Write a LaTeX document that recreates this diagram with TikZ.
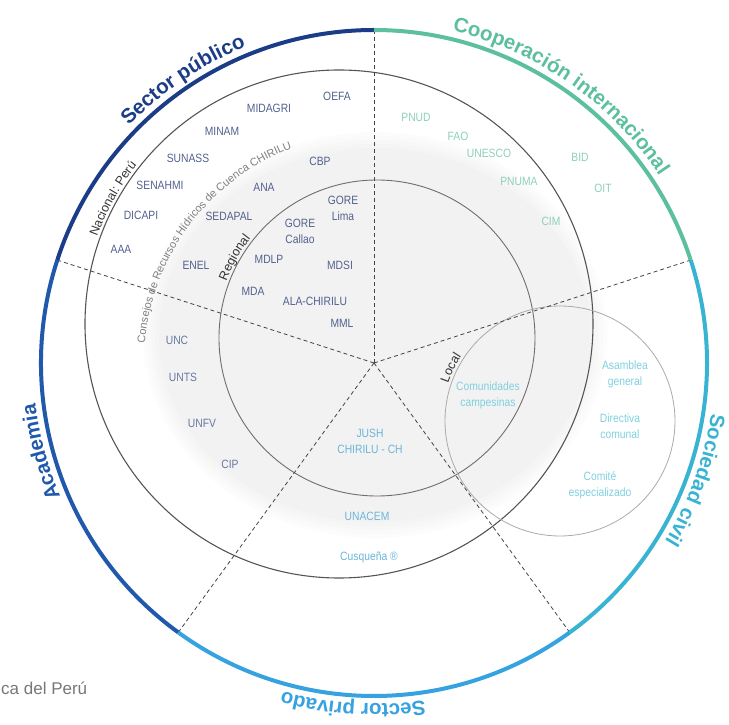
\documentclass[tikz,border=0pt]{standalone}
\usepackage{fontspec}
\setmainfont{Liberation Sans}
\newfontfamily\labfont[FakeStretch=0.86]{Liberation Sans}
\usetikzlibrary{decorations.text}
\definecolor{cPub}{HTML}{1B3C86}
\definecolor{cAca}{HTML}{2058AC}
\definecolor{cPriv}{HTML}{36A2E0}
\definecolor{cSoc}{HTML}{38B4D2}
\definecolor{cCoop}{HTML}{5CBF9E}
\definecolor{lPub}{HTML}{52618F}
\definecolor{lAca}{HTML}{6878A0}
\definecolor{lPriv}{HTML}{6DB5DA}
\definecolor{lCoop}{HTML}{8DD0B9}
\definecolor{lSoc}{HTML}{7FD0E0}
\definecolor{ringA}{HTML}{555555}
\definecolor{ringB}{HTML}{6E6E6E}
\definecolor{ringC}{HTML}{AAAAAA}
\definecolor{dashc}{HTML}{444444}
\definecolor{darklab}{HTML}{333333}
\definecolor{consc}{HTML}{808080}
\definecolor{footc}{HTML}{777777}
\newcommand\orgfont{\labfont\fontsize{12}{16}\selectfont}
\newcommand\ttlfont{\fontsize{20.5}{24}\selectfont\bfseries}
\newcommand\ringfont{\fontsize{12.5}{15}\selectfont}
\newcommand\consfont{\fontsize{11}{13}\selectfont}
\tikzset{
  pub/.style={font=\orgfont, text=lPub, align=center, inner sep=0pt},
  aca/.style={font=\orgfont, text=lAca, align=center, inner sep=0pt},
  priv/.style={font=\orgfont, text=lPriv, align=center, inner sep=0pt},
  coop/.style={font=\orgfont, text=lCoop, align=center, inner sep=0pt},
  soc/.style={font=\orgfont, text=lSoc, align=center, inner sep=0pt},
  ttl/.style 2 args={decorate, decoration={text along path, text align=center, text color=#1, text={|\ttlfont|#2}}},
  ringtxt/.style 2 args={decorate, decoration={text along path, text align=center, text color=#1, text={|\ringfont|#2}}},
  divider/.style={draw=dashc, line width=0.8pt, dash pattern=on 4pt off 3pt},
  outerarc/.style={line width=4pt},
}
\begin{document}
\begin{tikzpicture}[x=1pt,y=1pt]
\useasboundingbox (-374,-362) rectangle (355,363);
% shaded zone (soft edge)
\foreach \k in {1,...,5}
  \fill[black!\k] (1,28) ellipse [x radius={236-\k*4}, y radius={207-\k*4}];
% rings
\draw[ringA, line width=1.1pt] (-35,39) circle [radius=254];
\draw[ringB, line width=0.9pt] (3,25) circle [radius=158];
\draw[ringC, line width=0.8pt] (186,-58) circle [radius=115];
% dividers
\coordinate (c) at (0,0);
\coordinate (d1) at (90:333);
\coordinate (d2) at (18:333);
\coordinate (d3) at (-54:333);
\coordinate (d4) at (-126:333);
\coordinate (d5) at (162:333);
\foreach \d in {d1,d2,d3,d4,d5} \draw[divider] (c) -- (\d);
% ring labels
\path[shift={(-35,39)}, ringtxt={darklab}{Nacional: Perú}] (175:257) arc[start angle=175, end angle=127, radius=257];
\path[shift={(3,25)}, ringtxt={darklab}{Regional}] (170:161) arc[start angle=170, end angle=131, radius=161];
\path[shift={(186,-58)}, ringtxt={darklab}{Local}] (185:118) arc[start angle=185, end angle=123, radius=118];
\path[decorate, decoration={text along path, text align=center, text color=consc, text={|\consfont|Consejos de Recursos Hídricos de Cuenca CHIRILU}}] (180:230) arc[start angle=180, end angle=106, radius=230];
% Sector publico
\node[pub] (oefa) at (-37,267) {OEFA};
\node[pub] (midagri) at (-105,255) {MIDAGRI};
\node[pub] (minam) at (-152,232) {MINAM};
\node[pub] (sunass) at (-186,205) {SUNASS};
\node[pub] (cbp) at (-54,202) {CBP};
\node[pub] (senahmi) at (-214,178) {SENAHMI};
\node[pub] (ana) at (-110,176) {ANA};
\node[pub] (dicapi) at (-233,148) {DICAPI};
\node[pub] (sedapal) at (-145,147) {SEDAPAL};
\node[pub] (gorelima) at (-31,155) {GORE\\Lima};
\node[pub] (gorecallao) at (-74,132) {GORE\\Callao};
\node[pub] (aaa) at (-253,114) {AAA};
\node[pub] (enel) at (-178,98) {ENEL};
\node[pub] (mdlp) at (-105,104) {MDLP};
\node[pub] (mdsi) at (-34,98) {MDSI};
\node[pub] (mda) at (-121,72) {MDA};
\node[pub] (alachirilu) at (-59,62) {ALA-CHIRILU};
\node[pub] (mml) at (-32,40) {MML};
% Academia
\node[aca] (unc) at (-197,23) {UNC};
\node[aca] (unts) at (-191,-14) {UNTS};
\node[aca] (unfv) at (-172,-60) {UNFV};
\node[aca] (cip) at (-144,-101) {CIP};
% Sector privado
\node[priv] (jush) at (-4,-78) {JUSH\\CHIRILU - CH};
\node[priv] (unacem) at (-7,-153) {UNACEM};
\node[priv] (cusquena) at (-5,-194) {Cusqueña ®};
% Cooperacion
\node[coop] (pnud) at (42,246) {PNUD};
\node[coop] (fao) at (84,227) {FAO};
\node[coop] (unesco) at (115,210) {UNESCO};
\node[coop] (bid) at (206,206) {BID};
\node[coop] (pnuma) at (145,182) {PNUMA};
\node[coop] (oit) at (229,175) {OIT};
\node[coop] (cim) at (177,142) {CIM};
% Sociedad civil
\node[soc] (comunidades) at (114,-32) {Comunidades\\campesinas};
\node[soc] (asamblea) at (251,-11) {Asamblea\\general};
\node[soc] (directiva) at (246,-63) {Directiva\\comunal};
\node[soc] (comite) at (226,-122) {Comité\\especializado};
% outer arcs
\draw[cPub, outerarc] (90:333) arc[start angle=90, end angle=162, radius=333];
\draw[cAca, outerarc] (162:333) arc[start angle=162, end angle=234, radius=333];
\draw[cPriv, outerarc] (234:333) arc[start angle=234, end angle=306, radius=333];
\draw[cSoc, outerarc] (306:333) arc[start angle=306, end angle=378, radius=333];
\draw[cCoop, outerarc] (18:333) arc[start angle=18, end angle=90, radius=333];
% titles
\path[ttl={cPub}{Sector público}] (160:341) arc[start angle=160, end angle=88, radius=341];
\path[ttl={cCoop}{Cooperación internacional}] (95:341) arc[start angle=95, end angle=15, radius=341];
\path[ttl={cSoc}{Sociedad civil}] (20:341) arc[start angle=20, end angle=-60, radius=341];
\path[ttl={cPriv}{Sector privado}] (306:341) arc[start angle=306, end angle=227, radius=341];
\path[ttl={cAca}{Academia}] (235:341) arc[start angle=235, end angle=155, radius=341];
% footer
\node[anchor=west, inner sep=0pt, font=\fontsize{17}{20}\selectfont, text=footc] (src) at (-373,-325) {ca del Perú};
\end{tikzpicture}
\end{document}
